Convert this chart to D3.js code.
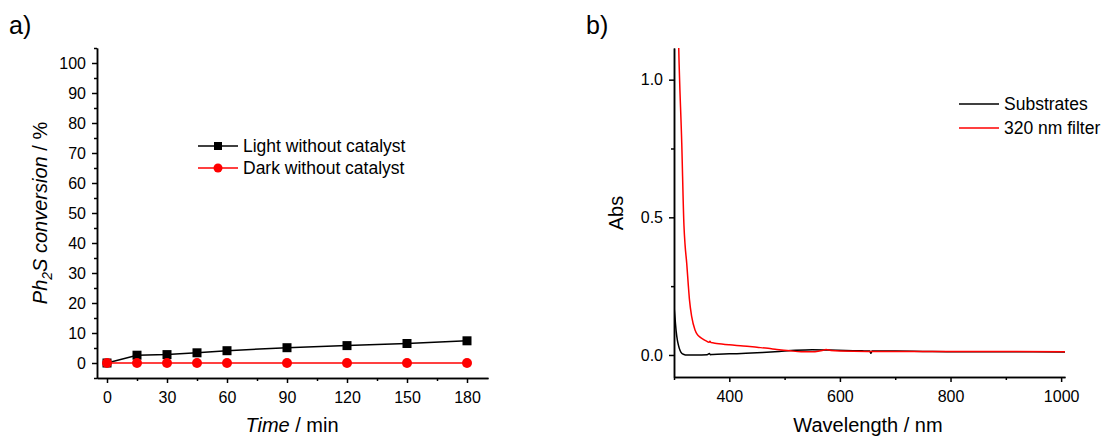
<!DOCTYPE html>
<html lang="en">
<head>
  <meta charset="utf-8">
  <title>Ph2S conversion and absorbance</title>
  <script src="https://d3js.org/d3.v7.min.js"></script>
  <style>
    body { margin: 0; background: #fff; }
    svg { display: block; font-family: "Liberation Sans", Arial, sans-serif; }
    .axis path, .axis line { stroke: #000; stroke-width: 1.5; }
    .axis text { font-size: 16px; fill: #000; font-family: "Liberation Sans", Arial, sans-serif; }
  </style>
</head>
<body>
<div id="chart"></div>
<script>
// panel a) data
var timeMin = [0, 15, 30, 45, 60, 90, 120, 150, 180];
var lightConv = [0, 2.6, 2.8, 3.4, 4.1, 5.1, 5.8, 6.5, 7.4];
var darkConv = [0, 0, 0, 0, 0, 0, 0, 0, 0];
var timeTicks = [0, 30, 60, 90, 120, 150, 180];
var convTicks = [0, 10, 20, 30, 40, 50, 60, 70, 80, 90, 100];

// panel b) data
var substratesNm = [300, 302, 304, 306, 308, 311, 314, 318, 323, 340, 360, 364, 366, 370, 400, 430, 460, 490, 520, 550, 580, 610, 640, 654, 656, 658, 700, 750, 800, 850, 900, 950, 1007];
var substratesAbs = [0.176, 0.13, 0.085, 0.055, 0.036, 0.016, 0.006, 0.002, 0.0, 0.0, 0.001, 0.005, 0.001, 0.002, 0.004, 0.006, 0.009, 0.013, 0.017, 0.019, 0.018, 0.016, 0.015, 0.014, 0.006, 0.014, 0.014, 0.013, 0.012, 0.012, 0.012, 0.012, 0.011];
var filterNm = [300, 305, 308.5, 314, 318, 320, 323, 326, 328, 332, 338, 342, 347, 353, 359, 363, 365, 367, 377, 400, 425, 450, 470, 486, 510, 530, 555, 568, 575, 584, 600, 650, 700, 800, 900, 1007];
var filterAbs = [2.2, 1.5, 1.12, 0.77, 0.47, 0.4, 0.333, 0.25, 0.2, 0.139, 0.091, 0.075, 0.065, 0.057, 0.05, 0.046, 0.05, 0.045, 0.042, 0.037, 0.033, 0.028, 0.024, 0.02, 0.015, 0.012, 0.012, 0.016, 0.02, 0.016, 0.014, 0.013, 0.013, 0.013, 0.013, 0.012];
var nmTicks = [400, 600, 800, 1000];
var absTicks = [0, 0.5, 1.0];

var width = 1105, height = 437;
var svg = d3.select("#chart").append("svg")
    .attr("width", width)
    .attr("height", height);

// ---------- panel a ----------
var xa = d3.scaleLinear().domain([-5, 190.5]).range([97, 488]);
var ya = d3.scaleLinear().domain([-5, 105]).range([378, 48]);

svg.append("g").attr("class", "axis")
    .attr("transform", "translate(0,378)")
    .call(d3.axisBottom(xa).tickValues([15, 45, 75, 105, 135, 165]).tickSize(3).tickSizeOuter(0).tickFormat(""));
svg.append("g").attr("class", "axis")
    .attr("transform", "translate(0,378)")
    .call(d3.axisBottom(xa).tickValues(timeTicks).tickSize(5).tickSizeOuter(0).tickPadding(9));

svg.append("g").attr("class", "axis")
    .attr("transform", "translate(97,0)")
    .call(d3.axisLeft(ya).tickValues(d3.range(-5, 106, 10)).tickSize(3).tickSizeOuter(0).tickFormat(""));
svg.append("g").attr("class", "axis")
    .attr("transform", "translate(97,0)")
    .call(d3.axisLeft(ya).tickValues(convTicks).tickSize(5).tickSizeOuter(0).tickPadding(6));

var lineA = d3.line()
    .x(function(d, i) { return xa(timeMin[i]); })
    .y(function(d) { return ya(d); });

svg.append("path").datum(lightConv)
    .attr("d", lineA).attr("fill", "none").attr("stroke", "#000").attr("stroke-width", 1.5);
svg.append("path").datum(darkConv)
    .attr("d", lineA).attr("fill", "none").attr("stroke", "#f00").attr("stroke-width", 1.5);

svg.selectAll(".sq").data(lightConv).enter().append("rect")
    .attr("x", function(d, i) { return xa(timeMin[i]) - 4.5; })
    .attr("y", function(d) { return ya(d) - 4.5; })
    .attr("width", 9).attr("height", 9)
    .attr("fill", "#000");
svg.selectAll(".dot").data(darkConv).enter().append("circle")
    .attr("cx", function(d, i) { return xa(timeMin[i]); })
    .attr("cy", function(d) { return ya(d); })
    .attr("r", 5)
    .attr("fill", "#f00");

// legend a
var legA = [
  { label: "Light without catalyst", color: "#000", shape: "square", y: 146 },
  { label: "Dark without catalyst", color: "#f00", shape: "circle", y: 168 }
];
legA.forEach(function(l) {
  svg.append("line").attr("x1", 198).attr("x2", 238).attr("y1", l.y).attr("y2", l.y)
      .attr("stroke", l.color).attr("stroke-width", 1.5);
  if (l.shape == "square") {
    svg.append("rect").attr("x", 214).attr("y", l.y - 4).attr("width", 8).attr("height", 8).attr("fill", l.color);
  } else {
    svg.append("circle").attr("cx", 218).attr("cy", l.y).attr("r", 4.5).attr("fill", l.color);
  }
  svg.append("text").attr("x", 243).attr("y", l.y + 6)
      .attr("font-size", 17.5).text(l.label);
});

// axis titles a
var tx = svg.append("text").attr("x", 292).attr("y", 432)
    .attr("text-anchor", "middle").attr("font-size", 20);
tx.append("tspan").attr("font-style", "italic").text("Time");
tx.append("tspan").text(" / min");

var ty = svg.append("text")
    .attr("transform", "translate(47,213) rotate(-90)")
    .attr("text-anchor", "middle").attr("font-size", 20);
ty.append("tspan").attr("font-style", "italic").text("Ph");
ty.append("tspan").attr("font-style", "italic").attr("font-size", 14).attr("dy", 5).text("2");
ty.append("tspan").attr("font-style", "italic").attr("dy", -5).text("S conversion");
ty.append("tspan").text(" / %");

svg.append("text").attr("x", 9).attr("y", 34).attr("font-size", 25).text("a)");

// ---------- panel b ----------
var xb = d3.scaleLinear().domain([300, 1007]).range([674, 1065]);
var yb = d3.scaleLinear().domain([-0.08, 1.115]).range([377, 48]);

svg.append("defs").append("clipPath").attr("id", "clipb")
  .append("rect").attr("x", 674).attr("y", 48).attr("width", 391).attr("height", 329);

svg.append("g").attr("class", "axis")
    .attr("transform", "translate(0,377)")
    .call(d3.axisBottom(xb).tickValues([300, 500, 700, 900]).tickSize(3).tickSizeOuter(0).tickFormat(""));
svg.append("g").attr("class", "axis")
    .attr("transform", "translate(0,377)")
    .call(d3.axisBottom(xb).tickValues(nmTicks).tickSize(5).tickSizeOuter(0).tickPadding(9).tickFormat(d3.format("d")));

svg.append("g").attr("class", "axis")
    .attr("transform", "translate(674,0)")
    .call(d3.axisLeft(yb).tickValues([0.25, 0.75]).tickSize(3).tickSizeOuter(0).tickFormat(""));
svg.append("g").attr("class", "axis")
    .attr("transform", "translate(674,0)")
    .call(d3.axisLeft(yb).tickValues(absTicks).tickSize(5).tickSizeOuter(0).tickPadding(6).tickFormat(d3.format(".1f")));

var lineB = d3.line().curve(d3.curveMonotoneX)
    .x(function(d) { return xb(d[0]); })
    .y(function(d) { return yb(d[1]); });

var gb = svg.append("g").attr("clip-path", "url(#clipb)");
gb.append("path").datum(d3.zip(substratesNm, substratesAbs))
    .attr("d", lineB).attr("fill", "none").attr("stroke", "#000").attr("stroke-width", 1.5);
gb.append("path").datum(d3.zip(filterNm, filterAbs))
    .attr("d", lineB).attr("fill", "none").attr("stroke", "#f00").attr("stroke-width", 1.5);

// legend b
var legB = [
  { label: "Substrates", color: "#000", y: 104 },
  { label: "320 nm filter", color: "#f00", y: 128 }
];
legB.forEach(function(l) {
  svg.append("line").attr("x1", 959).attr("x2", 999).attr("y1", l.y).attr("y2", l.y)
      .attr("stroke", l.color).attr("stroke-width", 1.5);
  svg.append("text").attr("x", 1004).attr("y", l.y + 6)
      .attr("font-size", 17.5).text(l.label);
});

svg.append("text").attr("x", 868).attr("y", 432)
    .attr("text-anchor", "middle").attr("font-size", 20).text("Wavelength / nm");
svg.append("text")
    .attr("transform", "translate(623,213) rotate(-90)")
    .attr("text-anchor", "middle").attr("font-size", 20).text("Abs");

svg.append("text").attr("x", 586).attr("y", 34).attr("font-size", 25).text("b)");
</script>
</body>
</html>
